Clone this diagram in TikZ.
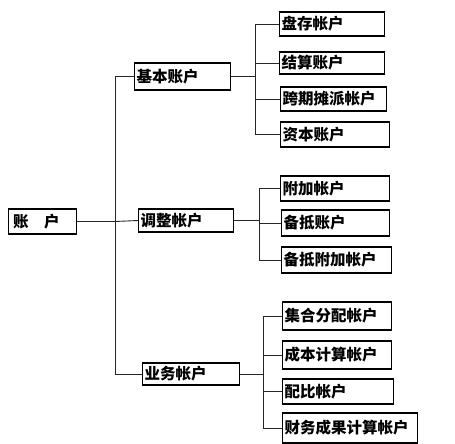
\documentclass[tikz,border=0pt]{standalone}
\usepackage{fontspec}
\newfontfamily\cjk{Noto Sans CJK SC}
\usepackage{tikz}
\usetikzlibrary{calc}

\tikzset{
	acct/.style={draw, line width=1.1pt, anchor=west, text width=#1, minimum height=25,
		inner xsep=2, inner ysep=0, align=left, font=\cjk\bfseries\fontsize{15.5}{15.5}\selectfont},
	link/.style={line width=0.9pt, black!85}
}

\begin{document}
\begin{tikzpicture}[x=1pt, y=-1pt]
		\useasboundingbox (0,0) rectangle (455,444);

		\node[acct=64] (root) at (8,221.5) {\,账　户};

		\node[acct=92, minimum height=27] (jb) at (134,76.5) {基本账户};
		\node[acct=91, minimum height=23] (tz) at (138,220.5) {调整帐户};
		\node[acct=93, minimum height=22] (yw) at (142,374) {业务帐户};

		\node[acct=101, minimum height=24] (pc) at (279,24) {盘存帐户};
		\node[acct=101, minimum height=22] (js) at (279,63) {结算账户};
		\node[acct=102, minimum height=24] (kq) at (280,99) {跨期摊派帐户};
		\node[acct=105, minimum height=25] (zb) at (280,134.5) {资本账户};

		\node[acct=105, minimum height=25] (fj) at (280,188.5) {附加帐户};
		\node[acct=104, minimum height=26] (bd) at (281,223) {备抵账户};
		\node[acct=106, minimum height=26] (bf) at (281,260) {备抵附加帐户};

		\node[acct=105, minimum height=28] (jh) at (282,316) {集合分配帐户};
		\node[acct=105, minimum height=28] (cb) at (282,355) {成本计算帐户};
		\node[acct=107, minimum height=25] (pb) at (282,391.5) {配比帐户};
		\node[acct=131, minimum height=30] (cw) at (282,428) {财务成果计算帐户};

		\draw[link] (root.east) -- ++(38,0) coordinate (t0);
		\draw[link] (jb.west) -| (t0) |- (yw.west);
		\draw[link] (t0) -- (tz.west);

		\draw[link] (jb.east) -- ++(24,0) coordinate (j0);
		\draw[link] (pc.west) -| (j0) |- (zb.west);
		\draw[link] (js.west) -| (j0);
		\draw[link] (kq.west) -| (j0);

		\draw[link] (tz.east) -- ++(25,0) coordinate (z0);
		\draw[link] (fj.west) -| (z0) |- (bf.west);
		\draw[link] (bd.west) -| (z0);

		\draw[link] (yw.east) -- ++(23,0) coordinate (y0);
		\draw[link] (jh.west) -| (y0) |- (cw.west);
		\draw[link] (cb.west) -| (y0);
		\draw[link] (pb.west) -| (y0);
	\end{tikzpicture}
\end{document}
